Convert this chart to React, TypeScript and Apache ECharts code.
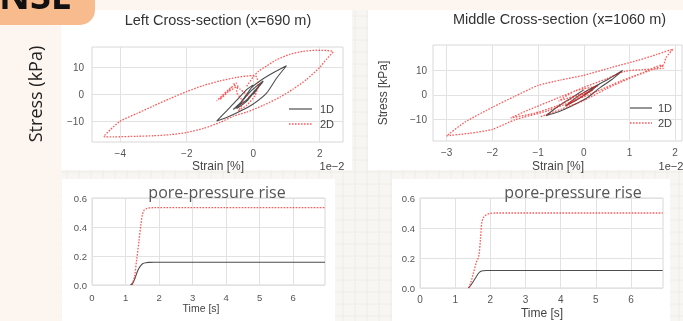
import React, { useEffect, useRef } from 'react';
import * as echarts from 'echarts';

// ---------- data (strain in units of 1e-2 %, stress in kPa) ----------
const leftLoop1D: number[][] = [
  [0, 0], [0.15, 2.5], [0.3, 4.8], [0.1, 2], [-0.2, -2.5], [-0.5, -5.2], [-0.3, -2], [-0.05, 1.5],
  [0.3, 5], [0.1, 2.2], [-0.2, -2], [-0.6, -5.5], [-0.35, -2.5], [-0.2, 0], [-0.05, 2.5],
  [0.2, 5], [0.6, 8], [1.0, 10.6], [0.7, 6], [0.4, 0.5], [0, -3.5], [-0.4, -6.2], [-0.8, -8.5],
  [-1.1, -9.8], [-0.8, -6], [-0.5, -2.2], [-0.2, 1.8], [0, 3.5],
];
const leftLoop2D: number[][] = [
  [-0.1, -1], [-0.4, 2], [-0.6, 3.8], [-0.5, 4.3], [-0.75, 1.5], [-1.1, -2.4], [-0.95, -0.5],
  [-0.65, 2.8], [-0.8, 0.5], [-1.0, -1.8], [-0.75, 1], [-0.45, 3.2], [-0.5, 1], [-0.3, -3],
  [-0.45, -6], [-0.2, -4], [0.05, -0.5], [0.15, 4], [0.1, 6.5], [0, 7],
  [-0.5, 6.3], [-1, 5], [-1.5, 3.3], [-2, 1.1], [-2.5, -1.5], [-3, -4.2], [-3.5, -7], [-4, -9.8],
  [-4.3, -13], [-4.5, -15.5], [-4.2, -15.6], [-3.5, -15.4], [-3, -15.2], [-2.5, -14.8], [-2, -14],
  [-1.5, -12.5], [-1, -10.3], [-0.6, -8], [-0.2, -6.5], [0.3, -4], [0.8, -1], [1.2, 2], [1.6, 5.5],
  [2.0, 10], [2.2, 13], [2.4, 15.8], [2.2, 16.2], [1.9, 16.3], [1.5, 15.9], [1.1, 14.8], [0.7, 12.8],
  [0.4, 10.5], [0.15, 8.5], [0, 6.5], [-0.2, 3],
];
const midLoop1D: number[][] = [
  [0, 0], [0.2, 2.5], [0.35, 4.5], [0.15, 1.5], [-0.15, -2], [-0.4, -4.5], [-0.2, -1.5], [0.05, 1.5],
  [0.3, 4], [0.55, 6.5], [0.85, 9.8], [0.6, 6], [0.35, 2.8], [0.05, -1.5], [-0.3, -4.8], [-0.55, -6.8],
  [-0.83, -8.4], [-0.55, -4.5], [-0.25, -1], [0, 2],
];
const midLoop2D: number[][] = [
  [0, 0], [-0.3, -3], [0.2, 2], [-0.4, -4.5], [0.05, 1], [-0.55, -2.5], [-0.2, 1.5], [0.3, 3.5], [-0.1, 0],
  [-0.6, -4.5], [-1.1, -7.5], [-1.6, -9.3], [-1.2, -6], [-0.6, -1.5], [0, 3], [0.5, 6.5], [0.9, 9.5],
  [1.3, 10.2], [1.75, 10.8], [1.7, 12], [1.3, 9], [0.8, 5.5], [0.3, 1.5], [-0.3, -3], [-0.8, -6.5],
  [-1.5, -10], [-2, -13.9], [-2.5, -15.5], [-3, -16.5], [-2.6, -11], [-2, -5], [-1.5, -0.5], [-1, 3.8],
  [-0.5, 6], [0, 7.9], [0.6, 11], [1.2, 14], [1.6, 16.3], [1.95, 18.4], [1.8, 15], [1.74, 12],
  [1.4, 9.5], [1.07, 7.2], [0.5, 2.5], [0, -2.3], [-0.5, -5.8], [-0.97, -9],
];

const leftTime1D = [1.15, 1.22, 1.28, 1.34, 1.4, 1.46, 1.52, 1.6, 1.7, 1.85, 6.95];
const leftPore1D = [0, 0.015, 0.045, 0.085, 0.115, 0.135, 0.148, 0.154, 0.156, 0.157, 0.157];
const leftTime2D = [1.2, 1.27, 1.33, 1.4, 1.46, 1.5, 1.55, 1.62, 1.72, 1.85, 6.95];
const leftPore2D = [0, 0.06, 0.17, 0.3, 0.42, 0.48, 0.515, 0.527, 0.532, 0.533, 0.533];
const midTime1D = [1.38, 1.45, 1.52, 1.6, 1.67, 1.72, 1.8, 1.9, 6.9];
const midPore1D = [0, 0.02, 0.045, 0.075, 0.1, 0.11, 0.115, 0.117, 0.117];
const midTime2D = [1.38, 1.45, 1.52, 1.6, 1.67, 1.72, 1.76, 1.82, 1.9, 2.0, 2.15, 6.9];
const midPore2D = [0, 0.04, 0.1, 0.17, 0.21, 0.33, 0.44, 0.475, 0.49, 0.498, 0.5, 0.5];

const strainTicksLeft = [-4, -2, 0, 2];
const strainTicksMid = [-3, -2, -1, 0, 1, 2];
const stressTicks = [-10, 0, 10];
const timeTicks = [0, 1, 2, 3, 4, 5, 6];
const poreTicks = [0, 0.2, 0.4, 0.6];

const zip = (t: number[], v: number[]) => t.map((x, i) => [x, v[i]]);
const minus = (v: number) => (v < 0 ? '\u2212' + Math.abs(v) : String(v));

const SANS = '"Liberation Sans", Arial, sans-serif';
const ROUND = '"Open Sans", "Noto Sans", sans-serif';

function axis(gridIndex: number, min: number, max: number, ticks: number[], fontSize: number, margin: number, fmt: (v: number) => string) {
  return {
    type: 'value', gridIndex, min, max,
    axisLine: { show: false },
    axisTick: { show: false, customValues: ticks },
    axisLabel: { customValues: ticks, fontSize, color: '#555', margin, fontFamily: SANS, formatter: fmt },
    splitLine: { show: true, lineStyle: { color: '#e2e2e2', width: 1 } },
  };
}

const black = { color: '#2e2e2e', width: 1.1, opacity: 0.85 };
const red = { color: '#ff1a1a', width: 1.3, type: [1.6, 1.4], opacity: 0.72 };

function texture(x: number, y: number, w: number, h: number) {
  const els: any[] = [{ type: 'rect', z: -20, shape: { x, y, width: w, height: h }, style: { fill: '#f7f6f2' } }];
  for (let gx = x + 6; gx < x + w; gx += 12) {
    els.push({ type: 'line', z: -19, shape: { x1: gx, y1: y, x2: gx, y2: y + h }, style: { stroke: '#eeece6', lineWidth: 0.8 } });
  }
  for (let gy = y + 6; gy < y + h; gy += 12) {
    els.push({ type: 'line', z: -19, shape: { x1: x, y1: gy, x2: x + w, y2: gy }, style: { stroke: '#eeece6', lineWidth: 0.8 } });
  }
  return els;
}

function txt(text: string, x: number, y: number, fontSize: number, fill = '#444', extra: any = {}) {
  return {
    type: 'text', x, y, z: 10, ...extra,
    style: { text, fill, fontSize, fontFamily: extra.fontFamily || SANS, fontWeight: extra.fontWeight || 'normal', align: extra.align || 'center', verticalAlign: 'middle' },
  };
}

function legend(x1: number, x2: number, y1: number, y2: number, tx: number) {
  return [
    { type: 'line', z: 10, shape: { x1, y1, x2, y2: y1 }, style: { stroke: '#2e2e2e', lineWidth: 1.2, opacity: 0.85 } },
    { type: 'line', z: 10, shape: { x1, y1: y2, x2, y2 }, style: { stroke: '#ff1a1a', lineWidth: 1.3, lineDash: [1.6, 1.4], opacity: 0.72 } },
    txt('1D', tx, y1, 11, '#444', { align: 'left' }),
    txt('2D', tx, y2, 11, '#444', { align: 'left' }),
  ];
}

export default function App() {
  const ref = useRef<HTMLDivElement>(null);
  useEffect(() => {
    document.body.style.margin = '0';
    const chart = echarts.init(ref.current!, null, { renderer: 'svg' });
    const graphics: any[] = [
      { type: 'rect', z: -30, shape: { x: 0, y: 0, width: 683, height: 321 }, style: { fill: '#fdf6f0' } },
      ...texture(61, 10, 622, 311),
      { type: 'rect', z: -10, shape: { x: 61, y: 10, width: 291, height: 160 }, style: { fill: '#ffffff' } },
      { type: 'rect', z: -10, shape: { x: 368, y: 10, width: 315, height: 160 }, style: { fill: '#ffffff' } },
      { type: 'rect', z: -10, shape: { x: 62, y: 179, width: 273, height: 142 }, style: { fill: '#ffffff' } },
      { type: 'rect', z: -10, shape: { x: 392, y: 179, width: 278, height: 142 }, style: { fill: '#ffffff' } },
      { type: 'rect', z: 5, shape: { x: -20, y: -20, width: 115, height: 45, r: 15 }, style: { fill: '#f8bb8e' } },
      txt('NSE', -1, -6, 38, '#111', { align: 'left', fontFamily: ROUND, fontWeight: 'bold' }),
      txt('Stress (kPa)', 35, 94, 18, '#222', { rotation: Math.PI / 2, fontFamily: ROUND }),
      txt('Left Cross-section (x=690 m)', 218, 19.5, 14.5, '#333'),
      txt('Middle Cross-section (x=1060 m)', 559.5, 19, 14.5, '#333'),
      txt('Strain [%]', 218, 165.5, 12, '#444'),
      txt('1e\u22122', 332, 165.5, 11, '#444'),
      txt('Strain [%]', 558, 165.5, 12, '#444'),
      txt('1e\u22122', 671, 165.5, 11, '#444'),
      txt('Stress [kPa]', 383, 93, 12, '#444', { rotation: Math.PI / 2 }),
      ...legend(289, 312, 109, 124, 320),
      ...legend(630, 652, 108, 123, 658),
      txt('pore-pressure rise', 217, 192, 16, '#555', { fontFamily: ROUND }),
      txt('pore-pressure rise', 573, 192, 16, '#555', { fontFamily: ROUND }),
      txt('Time [s]', 201, 308, 10.5, '#444'),
      txt('Time [s]', 542, 313, 12, '#444'),
    ];

    chart.setOption({
      animation: false,
      graphic: { elements: graphics },
      grid: [
        { left: 92, top: 47, width: 251, height: 95, show: true, borderColor: '#d8d8d8', borderWidth: 1, backgroundColor: 'transparent' },
        { left: 433, top: 45, width: 249, height: 96, show: true, borderColor: '#d8d8d8', borderWidth: 1, backgroundColor: 'transparent' },
        { left: 92, top: 198, width: 233, height: 87, show: true, borderColor: '#d8d8d8', borderWidth: 1, backgroundColor: 'transparent' },
        { left: 420, top: 198, width: 243, height: 90, show: true, borderColor: '#d8d8d8', borderWidth: 1, backgroundColor: 'transparent' },
      ],
      xAxis: [
        axis(0, -4.85, 2.7, strainTicksLeft, 10, 6, minus),
        axis(1, -3.3, 2.15, strainTicksMid, 10, 6, minus),
        axis(2, 0, 6.95, timeTicks, 9.5, 7, (v: number) => String(v)),
        axis(3, 0, 6.91, timeTicks, 10, 6, (v: number) => String(v)),
      ],
      yAxis: [
        axis(0, -17.5, 17.5, stressTicks, 10, 8, minus),
        axis(1, -18.6, 20.1, stressTicks, 10, 6, minus),
        axis(2, 0, 0.6, poreTicks, 9.5, 5, (v: number) => v.toFixed(1)),
        axis(3, 0, 0.6, poreTicks, 9.5, 5, (v: number) => v.toFixed(1)),
      ],
      series: [
        { name: '1D', type: 'line', xAxisIndex: 0, yAxisIndex: 0, data: leftLoop1D, symbol: 'none', smooth: 0.2, lineStyle: black },
        { name: '2D', type: 'line', xAxisIndex: 0, yAxisIndex: 0, data: leftLoop2D, symbol: 'none', smooth: 0.2, lineStyle: red },
        { name: '1D', type: 'line', xAxisIndex: 1, yAxisIndex: 1, data: midLoop1D, symbol: 'none', smooth: 0.2, lineStyle: black },
        { name: '2D', type: 'line', xAxisIndex: 1, yAxisIndex: 1, data: midLoop2D, symbol: 'none', smooth: 0.2, lineStyle: red },
        { name: '1D', type: 'line', xAxisIndex: 2, yAxisIndex: 2, data: zip(leftTime1D, leftPore1D), symbol: 'none', smooth: 0.3, lineStyle: black },
        { name: '2D', type: 'line', xAxisIndex: 2, yAxisIndex: 2, data: zip(leftTime2D, leftPore2D), symbol: 'none', smooth: 0.3, lineStyle: red },
        { name: '1D', type: 'line', xAxisIndex: 3, yAxisIndex: 3, data: zip(midTime1D, midPore1D), symbol: 'none', smooth: 0.3, lineStyle: black },
        { name: '2D', type: 'line', xAxisIndex: 3, yAxisIndex: 3, data: zip(midTime2D, midPore2D), symbol: 'none', smooth: 0.3, lineStyle: red },
      ],
    });
    return () => chart.dispose();
  }, []);
  return <div ref={ref} style={{ position: 'fixed', left: 0, top: 0, width: 683, height: 321 }} />;
}
